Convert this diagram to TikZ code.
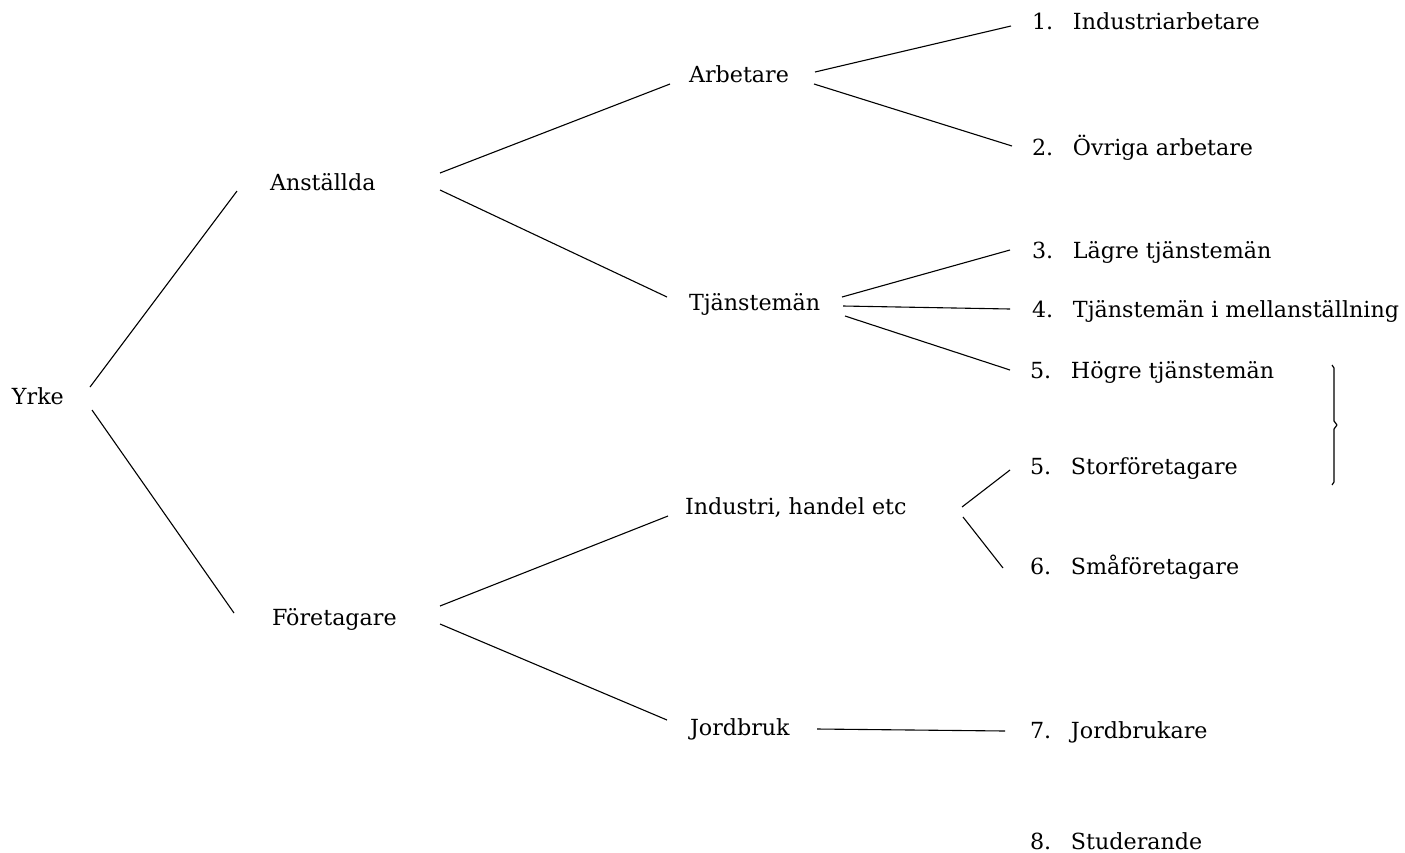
\documentclass[tikz,border=0pt]{standalone}
\usepackage{fontspec}
\setmainfont{DejaVu Serif}
\begin{document}
\begin{tikzpicture}[x=1pt,y=-1pt,
  lbl/.style={anchor=base west,inner sep=0pt,outer sep=0pt,font=\fontsize{22.2}{26}\selectfont},
  conn/.style={line width=1.1pt,black},
  brk/.style={line width=1.2pt,black,line join=round}]
\useasboundingbox (0,0) rectangle (1405,852);
\newcommand{\numlbl}[2]{\makebox[41pt][l]{#1}#2}
% level 0-2
\node[lbl] (yrke) at (12,404) {Yrke};
\node[lbl] (anst) at (270,190) {Anställda};
\node[lbl] (fore) at (272,625) {Företagare};
\node[lbl] (arb)  at (689,82)  {Arbetare};
\node[lbl] (tjm)  at (689,310) {Tjänstemän};
\node[lbl] (ind)  at (685,514) {Industri, handel etc};
\node[lbl] (jord) at (690,735) {Jordbruk};
% leaves
\node[lbl] (n1)  at (1032,29)  {\numlbl{1.}{Industriarbetare}};
\node[lbl] (n2)  at (1032,155) {\numlbl{2.}{Övriga arbetare}};
\node[lbl] (n3)  at (1032,258) {\numlbl{3.}{Lägre tjänstemän}};
\node[lbl] (n4)  at (1032,317) {\numlbl{4.}{Tjänstemän i mellanställning}};
\node[lbl] (n5a) at (1030,378) {\numlbl{5.}{Högre tjänstemän}};
\node[lbl] (n5b) at (1030,474) {\numlbl{5.}{Storföretagare}};
\node[lbl] (n6)  at (1030,574) {\numlbl{6.}{Småföretagare}};
\node[lbl] (n7)  at (1030,738) {\numlbl{7.}{Jordbrukare}};
\node[lbl] (n8)  at (1030,849) {\numlbl{8.}{Studerande}};
% connectors
\draw[conn] ([shift={(78,-17)}]yrke.base west) -- ([shift={(-33,1)}]anst.base west);
\draw[conn] ([shift={(80,6)}]yrke.base west) -- ([shift={(-38,-12)}]fore.base west);
\draw[conn] ([shift={(170,-17)}]anst.base west) -- ([shift={(-19,2)}]arb.base west);
\draw[conn] ([shift={(170,0)}]anst.base west) -- ([shift={(-22,-13)}]tjm.base west);
\draw[conn] ([shift={(168,-19)}]fore.base west) -- ([shift={(-17,2)}]ind.base west);
\draw[conn] ([shift={(168,-1)}]fore.base west) -- ([shift={(-23,-15)}]jord.base west);
\draw[conn] ([shift={(126,-10)}]arb.base west) -- ([shift={(-21,-3)}]n1.base west);
\draw[conn] ([shift={(125,2)}]arb.base west) -- ([shift={(-20,-9)}]n2.base west);
\draw[conn] ([shift={(153,-13)}]tjm.base west) -- ([shift={(-22,-8)}]n3.base west);
\draw[conn] ([shift={(154,-4)}]tjm.base west) -- ([shift={(-22,-8)}]n4.base west);
\draw[conn] ([shift={(156,6)}]tjm.base west) -- ([shift={(-20,-8)}]n5a.base west);
\draw[conn] ([shift={(277,-7)}]ind.base west) -- ([shift={(-20,-4)}]n5b.base west);
\draw[conn] ([shift={(278,3)}]ind.base west) -- ([shift={(-27,-6)}]n6.base west);
\draw[conn] ([shift={(127,-6)}]jord.base west) -- ([shift={(-25,-7)}]n7.base west);
% bracket joining the two 5's
\draw[brk] (1332,365) -- (1334,368) -- (1334,421) -- (1337,425) -- (1334,429) -- (1334,482) -- (1332,485);
\end{tikzpicture}
\end{document}
